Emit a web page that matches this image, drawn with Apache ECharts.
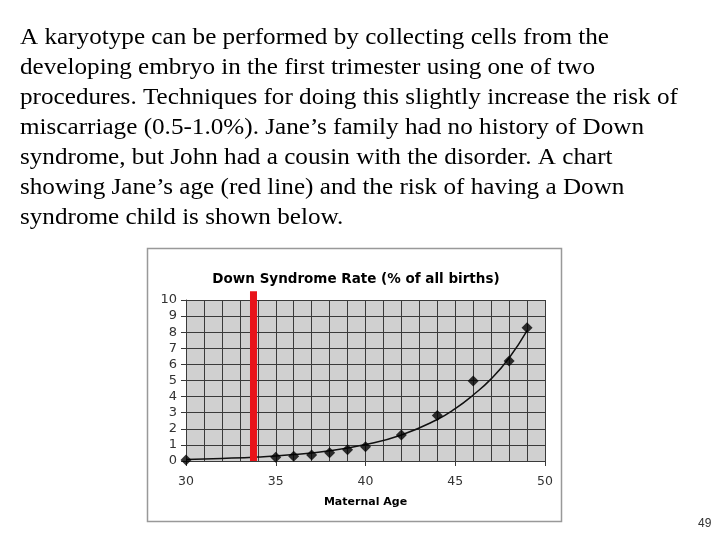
<!DOCTYPE html>
<html>
<head>
<meta charset="utf-8">
<script src="https://cdn.jsdelivr.net/npm/echarts@6/dist/echarts.min.js"></script>
<style>
html,body{margin:0;padding:0;background:#fff;}
#c{width:720px;height:540px;}
</style>
</head>
<body>
<div id="c"></div>
<script>
// Observed data points: maternal age vs Down syndrome rate (% of births)
var ages = [30, 35, 36, 37, 38, 39, 40, 42, 44, 46, 48, 49];
var rates = [0.06, 0.23, 0.29, 0.37, 0.52, 0.70, 0.89, 1.61, 2.82, 4.97, 6.21, 8.28];
// Trend curve
var trendAges = [30, 32, 34, 36, 38, 40, 42, 44, 45, 46, 47, 48, 49];
var trendRates = [0.10, 0.16, 0.25, 0.40, 0.63, 1.02, 1.62, 2.58, 3.25, 4.10, 5.10, 6.40, 8.10];
// Jane's age (red line)
var janeAge = [33.76];
var janeSpan = [0, 10.55];
var xTicks = [30, 35, 40, 45, 50];
var yTicks = [0, 1, 2, 3, 4, 5, 6, 7, 8, 9, 10];
var titleText = 'Down Syndrome Rate (% of all births)';
var xName = 'Maternal Age';
var paragraph = [
  'A karyotype can be performed by collecting cells from the',
  'developing embryo in the first trimester using one of two',
  'procedures. Techniques for doing this slightly increase the risk of',
  'miscarriage (0.5-1.0%). Jane\u2019s family had no history of Down',
  'syndrome, but John had a cousin with the disorder. A chart',
  'showing Jane\u2019s age (red line) and the risk of having a Down',
  'syndrome child is shown below.'
];
var pageNum = '49';

var chart = echarts.init(document.getElementById('c'), null, {renderer: 'canvas'});
var graphics = [];
paragraph.forEach(function (line, i) {
  graphics.push({
    type: 'text', x: 20, y: 26 + i * 30, scaleX: 1.094,
    style: {text: line, fill: '#000', font: '23px "Liberation Serif", "Times New Roman", serif'}
  });
});
graphics.push({
  type: 'rect', left: 145, top: 246,
  shape: {width: 414, height: 273},
  style: {fill: 'none', stroke: '#999', lineWidth: 1.5}, z: -1
});
graphics.push({
  type: 'text', left: 698, top: 518,
  style: {text: pageNum, fill: '#333', font: '12px "Liberation Sans", Arial, sans-serif'}
});

chart.setOption({
  animation: false,
  title: {
    text: titleText, left: 351, top: 267, textAlign: 'center',
    textStyle: {fontFamily: 'DejaVu Sans', fontWeight: 'bold', fontSize: 13.5, color: '#000'}
  },
  grid: {
    left: 186, right: 175, top: 300, bottom: 79,
    show: true, backgroundColor: '#d0d0d0', borderWidth: 0
  },
  xAxis: {
    type: 'value', min: 30, max: 50, interval: 5,
    name: xName, nameLocation: 'middle', nameGap: 36,
    nameTextStyle: {fontFamily: 'DejaVu Sans', fontWeight: 'bold', fontSize: 11, color: '#000'},
    axisLine: {show: true, lineStyle: {color: '#3a3a3a', width: 1}},
    axisTick: {show: true, length: 5, lineStyle: {color: '#3a3a3a'}},
    axisLabel: {margin: 14, fontFamily: 'DejaVu Sans', fontSize: 12.5, color: '#333',
      formatter: function (v) { return xTicks.indexOf(v) >= 0 ? String(v) : ''; }},
    splitLine: {show: true, lineStyle: {color: '#3a3a3a', width: 1}},
    minorTick: {show: false, splitNumber: 5},
    minorSplitLine: {show: true, lineStyle: {color: '#3a3a3a', width: 1}}
  },
  yAxis: {
    type: 'value', min: 0, max: 10, interval: 1,
    axisLine: {show: true, lineStyle: {color: '#3a3a3a', width: 1}},
    axisTick: {show: true, length: 5, lineStyle: {color: '#3a3a3a'}},
    axisLabel: {margin: 9, fontFamily: 'DejaVu Sans', fontSize: 13, color: '#333',
      formatter: function (v) { return yTicks.indexOf(v) >= 0 ? String(v) : ''; }},
    splitLine: {show: true, lineStyle: {color: '#3a3a3a', width: 1}}
  },
  series: [
    {
      type: 'line', smooth: true, showSymbol: false, symbol: 'none',
      data: trendAges.map(function (a, i) { return [a, trendRates[i]]; }),
      lineStyle: {color: '#111', width: 1.5}, z: 3
    },
    {
      type: 'line', symbol: 'none', clip: false,
      data: janeSpan.map(function (v) { return [janeAge[0], v]; }),
      lineStyle: {color: '#e8141a', width: 7, cap: 'butt'}, z: 4
    },
    {
      type: 'scatter', symbol: 'diamond', symbolSize: 11,
      data: ages.map(function (a, i) { return [a, rates[i]]; }),
      itemStyle: {color: '#000'}, z: 5
    }
  ],
  graphic: graphics
});
</script>
</body>
</html>
